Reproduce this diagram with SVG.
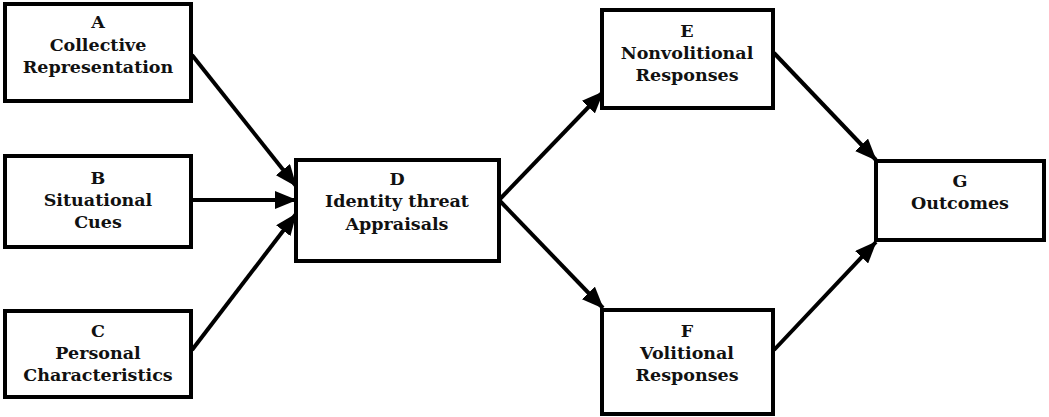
<svg xmlns="http://www.w3.org/2000/svg" width="1049" height="417" viewBox="0 0 1049 417">
<style>
.box{fill:#fff;stroke:#000;stroke-width:4}
.t{font-family:"DejaVu Serif","Liberation Serif",serif;font-weight:bold;font-size:17.5px;text-anchor:middle;fill:#111}
.c{stroke:#000;stroke-width:4;fill:none;marker-end:url(#ah)}
</style>
<defs>
<marker id="ah" markerUnits="userSpaceOnUse" markerWidth="22" markerHeight="18" refX="21" refY="9" orient="auto">
<path d="M0,0 L22,9 L0,18 Z" fill="#000"/>
</marker>
</defs>
<g id="connectors">
<line class="c" x1="192" y1="55" x2="296" y2="186"/>
<line class="c" x1="192" y1="200" x2="296" y2="200"/>
<line class="c" x1="192" y1="350" x2="296" y2="214"/>
<line class="c" x1="499" y1="200" x2="603" y2="92"/>
<line class="c" x1="499" y1="200" x2="603" y2="308"/>
<line class="c" x1="774" y1="53" x2="876" y2="160"/>
<line class="c" x1="774" y1="350" x2="876" y2="242"/>
</g>
<g id="A"><rect class="box" x="5" y="4" width="186" height="97"/><text class="t" x="98" y="28">A</text><text class="t" x="98" y="51">Collective</text><text class="t" x="98" y="73">Representation</text></g>
<g id="B"><rect class="box" x="5" y="156" width="186" height="91"/><text class="t" x="98" y="184">B</text><text class="t" x="98" y="206">Situational</text><text class="t" x="98" y="228">Cues</text></g>
<g id="C"><rect class="box" x="5" y="311" width="186" height="86"/><text class="t" x="98" y="337">C</text><text class="t" x="98" y="359">Personal</text><text class="t" x="98" y="381">Characteristics</text></g>
<g id="D"><rect class="box" x="296" y="160" width="203" height="101"/><text class="t" x="397" y="185">D</text><text class="t" x="397" y="207">Identity threat</text><text class="t" x="397" y="230">Appraisals</text></g>
<g id="E"><rect class="box" x="602" y="10" width="171" height="98"/><text class="t" x="687" y="37">E</text><text class="t" x="687" y="59">Nonvolitional</text><text class="t" x="687" y="81">Responses</text></g>
<g id="F"><rect class="box" x="602" y="310" width="171" height="104"/><text class="t" x="687" y="337">F</text><text class="t" x="687" y="359">Volitional</text><text class="t" x="687" y="381">Responses</text></g>
<g id="G"><rect class="box" x="876" y="161" width="168" height="79"/><text class="t" x="960" y="187">G</text><text class="t" x="960" y="209">Outcomes</text></g>
</svg>
